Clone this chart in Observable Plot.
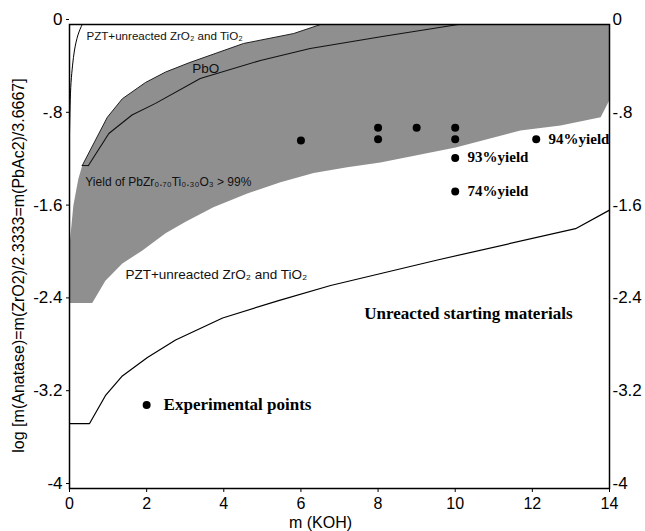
<!DOCTYPE html>
<html><head><meta charset="utf-8">
<script src="https://cdn.jsdelivr.net/npm/d3@7"></script>
<script src="https://cdn.jsdelivr.net/npm/@observablehq/plot@0.6"></script>
<style>body{margin:0;background:#fff}</style>
</head><body><div id="chart"></div>
<script>
// ---- data ----
const xTicks = [0, 2, 4, 6, 8, 10, 12, 14];
const yTicks = [0, -0.8, -1.6, -2.4, -3.2, -4];
const yTickLabels = ["0", "-.8", "-1.6", "-2.4", "-3.2", "-4"];

// upper boundary of the > 99% yield field (also top edge of PbO wedge)
const upperBoundary = [[0.33,-1.216],[0.98,-0.80],[1.37,-0.64],[1.97,-0.50],[2.49,-0.41],[3.1,-0.33],[4.51,-0.164],[5.81,-0.078],[6.51,0]];
// PbO lower line
const pboLine = [[0.49,-1.216],[1.02,-0.94],[1.62,-0.78],[2.23,-0.68],[3.39,-0.465],[4.95,-0.31],[6.24,-0.207],[8.11,-0.103],[10.08,0]];
// right edge of the field
const rightEdge = [[14,0],[14,-0.65]];
// lower boundary of the field (right to left)
const lowerBoundary = [[13.77,-0.80],[12.73,-0.87],[11.69,-0.914],[10.01,-1.06],[8.06,-1.19],[7.20,-1.23],[6.33,-1.28],[5.47,-1.36],[4.61,-1.457],[3.73,-1.575],[3.01,-1.70],[2.49,-1.80],[1.88,-1.95],[1.37,-2.06],[0.93,-2.21],[0.59,-2.40],[0,-2.40]];
// left edge of the field (bottom to top)
const leftEdge = [[0,-1.905],[0.10,-1.56],[0.23,-1.33]];
// thin curve near the left axis
const leftCurve = [[0.33,0],[0.22,-0.09],[0.13,-0.22],[0.08,-0.35],[0.04,-0.5],[0.015,-0.7],[0,-0.95]];
// lower boundary: unreacted starting materials
const lowerCurve = [[0,-3.44],[0.52,-3.44],[0.93,-3.20],[1.37,-3.03],[2.02,-2.87],[2.75,-2.72],[3.97,-2.53],[5.42,-2.38],[6.77,-2.25],[9.54,-2.03],[13.12,-1.76],[14,-1.60]];

// experimental points
const pointsX = [6, 8, 8, 9, 10, 10, 10, 10, 12.1];
const pointsY = [-1.0, -0.89, -0.99, -0.89, -0.89, -0.99, -1.15, -1.44, -0.99];
const legendPoint = [[2, -3.28]];

// region / point annotations
const sansLabels = [
  {text: "PZT+unreacted ZrO\u2082 and TiO\u2082", x: 0.44, y: -0.103, size: 11.6},
  {text: "PbO", x: 3.53, y: -0.38, size: 13.5, anchor: "middle"},
  {text: "Yield of PbZr\u2080.\u2087\u2080Ti\u2080.\u2083\u2080O\u2083 > 99%", x: 0.41, y: -1.36, size: 12},
  {text: "PZT+unreacted ZrO\u2082 and TiO\u2082", x: 1.45, y: -2.155, size: 13.5}
];
const serifLabels = [
  {text: "94%yield", x: 12.42, y: -0.99, size: 15},
  {text: "93%yield", x: 10.32, y: -1.147, size: 15},
  {text: "74%yield", x: 10.32, y: -1.44, size: 15},
  {text: "Unreacted starting materials", x: 10.34, y: -2.49, size: 17, anchor: "middle"},
  {text: "Experimental points", x: 2.44, y: -3.276, size: 17}
];

const fieldPolygon = [...upperBoundary, ...rightEdge, ...lowerBoundary, ...leftEdge, upperBoundary[0]];
const points = pointsX.map((x, i) => [x, pointsY[i]]);
const cornerSeg = [upperBoundary[0], pboLine[0]];

const fmtY = d => yTickLabels[yTicks.indexOf(d)];

const chart = Plot.plot({
  width: 645, height: 531,
  marginLeft: 69, marginRight: 36, marginTop: 24, marginBottom: 43,
  x: {domain: [0, 14]},
  y: {domain: [-4, 0]},
  style: {fontFamily: "'Liberation Sans', Arial, sans-serif", background: "#fff", color: "#000"},
  marks: [
    Plot.line(fieldPolygon, {x: d => d[0], y: d => d[1], fill: "#8f8f8f", stroke: "none", curve: "linear"}),
    Plot.line(upperBoundary, {x: d => d[0], y: d => d[1], stroke: "#222", strokeWidth: 1}),
    Plot.line(pboLine, {x: d => d[0], y: d => d[1], stroke: "#111", strokeWidth: 1.1}),
    Plot.line(cornerSeg, {x: d => d[0], y: d => d[1], stroke: "#111", strokeWidth: 1}),
    Plot.line(leftCurve, {x: d => d[0], y: d => d[1], stroke: "#000", strokeWidth: 1, curve: "natural"}),
    Plot.line(lowerCurve, {x: d => d[0], y: d => d[1], stroke: "#000", strokeWidth: 1.2}),
    Plot.dot(points, {x: d => d[0], y: d => d[1], r: 4, fill: "#000", stroke: "none"}),
    Plot.dot(legendPoint, {x: d => d[0], y: d => d[1], r: 4, fill: "#000", stroke: "none"}),
    ...sansLabels.map(l => Plot.text([l], {x: "x", y: "y", text: "text", fontSize: l.size, textAnchor: l.anchor || "start", lineAnchor: "middle", fill: "#111"})),
    ...serifLabels.map(l => Plot.text([l], {x: "x", y: "y", text: "text", fontSize: l.size, textAnchor: l.anchor || "start", lineAnchor: "middle", fill: "#000", fontWeight: "bold", fontFamily: "'Liberation Serif', 'Times New Roman', serif"})),
    Plot.frame({stroke: "#000", strokeWidth: 1.5}),
    Plot.axisX({ticks: xTicks, tickSize: 4, tickPadding: 5, fontSize: 16, label: null, tickFormat: d => String(d)}),
    Plot.axisY({ticks: yTicks, anchor: "left", tickSize: 3, tickPadding: 4, dy: -5, fontSize: 17, label: null, tickFormat: fmtY}),
    Plot.axisY({ticks: yTicks, anchor: "right", tickSize: 0, tickPadding: 3, dy: -5, fontSize: 17, label: null, tickFormat: fmtY}),
    Plot.text(["m (KOH)"], {frameAnchor: "bottom", dx: -19, dy: 34, fontSize: 16, lineAnchor: "middle", text: d => d}),
    Plot.text(["log [m(Anatase)=m(ZrO2)/2.3333=m(PbAc2)/3.6667]"], {frameAnchor: "left", rotate: -90, dx: -51, dy: 9, fontSize: 16, lineAnchor: "middle", textAnchor: "middle", text: d => d})
  ]
});
document.getElementById("chart").appendChild(chart);
</script>
</body></html>
